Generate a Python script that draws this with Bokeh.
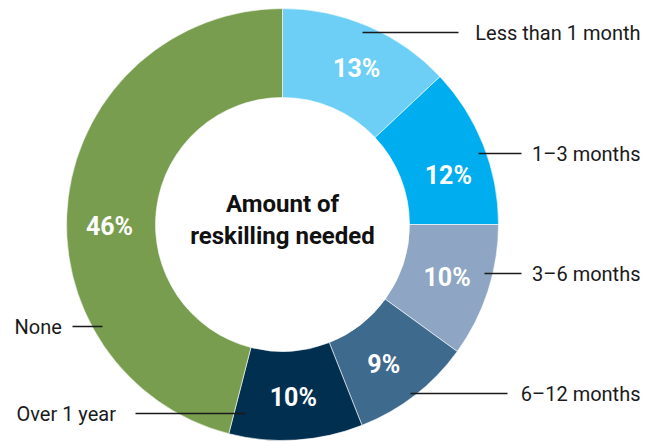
import math
from bokeh.plotting import figure
from bokeh.models import Range1d, ColumnDataSource
from bokeh.core.properties import value
from bokeh.embed import file_html
from bokeh.resources import INLINE

# ---- data ----
categories = ["Less than 1 month", "1\u20133 months", "3\u20136 months",
              "6\u201312 months", "Over 1 year", "None"]
shares = [13, 12, 10, 9, 10, 46]
colors = ["#6DCFF6", "#00AEEF", "#8EA6C3", "#3E6A8E", "#002F4F", "#799D4F"]
center_title = ["Amount of", "reskilling needed"]

# ---- layout (pixel coords, y downward) ----
W, H = 644, 442
CX, CY = 282, 224
R_OUT, R_IN = 216, 127
FONT = "Roboto"

def Y(py):
    return H - py

p = figure(width=W, height=H, output_backend="svg", toolbar_location=None,
           x_range=Range1d(0, W), y_range=Range1d(0, H),
           min_border=0, outline_line_color=None)
p.axis.visible = False
p.grid.visible = False
p.background_fill_color = "white"
p.border_fill_color = "white"

total = sum(shares)
starts, ends, mids = [], [], []
a = math.pi / 2
for s in shares:
    span = 2 * math.pi * s / total
    starts.append(a - span)
    ends.append(a)
    mids.append(a - span / 2)
    a -= span

src = ColumnDataSource(dict(start=starts, end=ends, color=colors))
p.annular_wedge(x=CX, y=Y(CY), inner_radius=R_IN, outer_radius=R_OUT,
                start_angle="start", end_angle="end", fill_color="color",
                line_color="white", line_width=0.6, source=src)

# percentage labels (placed near mid-angle, with small angular nudges)
R_LAB = 173
label_nudge_deg = [-2, -5, 0, -2, 0, 8]
lab_ang = [m + math.radians(d) for m, d in zip(mids, label_nudge_deg)]
lab = ColumnDataSource(dict(
    x=[CX + R_LAB * math.cos(m) for m in lab_ang],
    y=[Y(CY) + R_LAB * math.sin(m) for m in lab_ang],
    t=[f"{s}%" for s in shares]))
p.text(x="x", y="y", text="t", source=lab, text_color="white",
       text_font=value(FONT), text_font_style="bold", text_font_size="25px",
       text_align="center", text_baseline="middle")

# centre title
p.text(x=[CX, CX], y=[Y(203), Y(235)], text=center_title,
       text_font=value(FONT), text_font_style="bold", text_font_size="24px",
       text_color="#111111", text_align="center", text_baseline="middle")

# category labels with leader lines (same order as categories)
label_y = [32, 153, 273, 393, 413, 326]
label_x = [640, 640, 640, 640, 16, 14]
label_align = ["right", "right", "right", "right", "left", "left"]
leader_x0 = [362, 478, 484, 410, 135, 72]
leader_x1 = [458, 521, 521, 507, 245, 102]

p.segment(x0=leader_x0, y0=[Y(v) for v in label_y],
          x1=leader_x1, y1=[Y(v) for v in label_y],
          line_color="#1a1a1a", line_width=1.3)
for i, c in enumerate(categories):
    p.text(x=[label_x[i]], y=[Y(label_y[i])], text=[c],
           text_font=value(FONT), text_font_size="20px",
           text_color="#1a1a1a", text_align=label_align[i],
           text_baseline="middle")

open("out.html", "w").write(file_html(p, INLINE))
